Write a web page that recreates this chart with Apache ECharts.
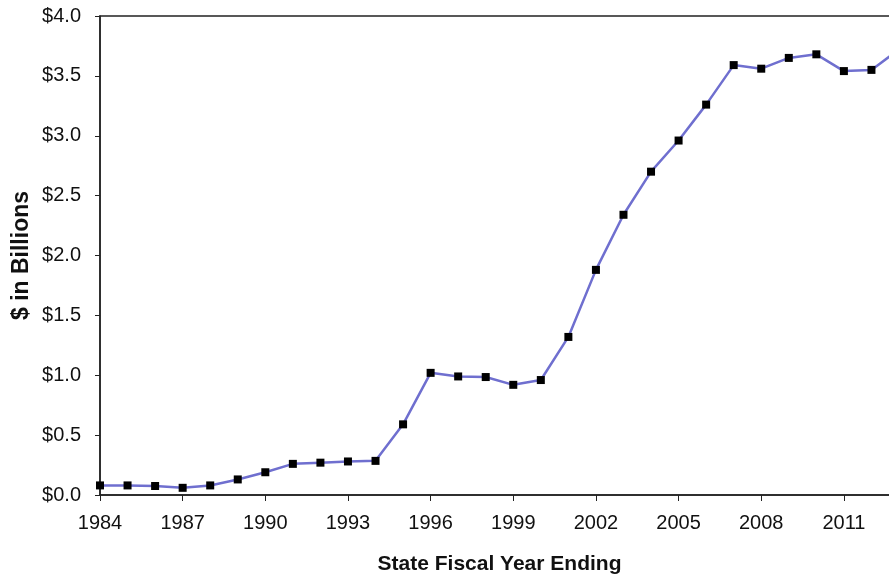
<!DOCTYPE html>
<html>
<head>
<meta charset="utf-8">
<script src="https://cdn.jsdelivr.net/npm/echarts@6/dist/echarts.min.js"></script>
<style>
html,body{margin:0;padding:0;background:#fff;overflow:hidden;}
#chart{width:889px;height:576px;}
</style>
</head>
<body>
<div id="chart"></div>
<script>
var years = [1984,1985,1986,1987,1988,1989,1990,1991,1992,1993,1994,1995,1996,1997,1998,1999,2000,2001,2002,2003,2004,2005,2006,2007,2008,2009,2010,2011,2012,2013];
var values = [0.08,0.08,0.075,0.06,0.08,0.13,0.19,0.26,0.27,0.28,0.285,0.59,1.02,0.99,0.985,0.92,0.96,1.32,1.88,2.34,2.70,2.96,3.26,3.59,3.56,3.65,3.68,3.54,3.55,3.72];
var xTitle = 'State Fiscal Year Ending';
var yTitle = '$ in Billions';

var data = years.map(function(y, i){ return [y, values[i]]; });
var chart = echarts.init(document.getElementById('chart'), null, {renderer:'canvas'});
var font = 'Liberation Sans, Arial, sans-serif';
chart.setOption({
  animation: false,
  backgroundColor: '#fff',
  grid: {left: 100, right: -10, top: 16, bottom: 81, containLabel: false, outerBoundsMode: 'none',
         show: true, borderColor: '#222', borderWidth: 1.5},
  xAxis: {
    type: 'value', min: 1984, max: 2013, interval: 3,
    axisLine: {show: true, lineStyle: {color: '#222', width: 1.5}},
    axisTick: {show: true, length: 6, lineStyle: {color: '#222'}},
    splitLine: {show: false},
    axisLabel: {color: '#111', fontSize: 20, fontFamily: font, margin: 18, showMaxLabel: false,
                formatter: function(v){return v >= 2013 ? '' : String(v);}},
    name: xTitle, nameLocation: 'middle', nameGap: 59, nameMoveOverlap: false,
    nameTextStyle: {color: '#111', fontSize: 21, fontWeight: 'bold', fontFamily: font}
  },
  yAxis: {
    type: 'value', min: 0, max: 4, interval: 0.5,
    axisLine: {show: true, lineStyle: {color: '#222', width: 1.5}},
    axisTick: {show: true, length: 5, lineStyle: {color: '#222'}},
    splitLine: {show: false},
    axisLabel: {color: '#111', fontSize: 20, fontFamily: font, margin: 19, formatter: function(v){return '$' + v.toFixed(1);}},
    name: yTitle, nameLocation: 'middle', nameGap: 67, nameMoveOverlap: false,
    nameTextStyle: {color: '#111', fontSize: 23, fontWeight: 'bold', fontFamily: font}
  },
  series: [{
    type: 'line', data: data, clip: true,
    symbol: 'rect', symbolSize: 8, showAllSymbol: true,
    itemStyle: {color: '#000'},
    lineStyle: {color: '#6f6fcf', width: 2.5}
  }]
});
</script>
</body>
</html>
